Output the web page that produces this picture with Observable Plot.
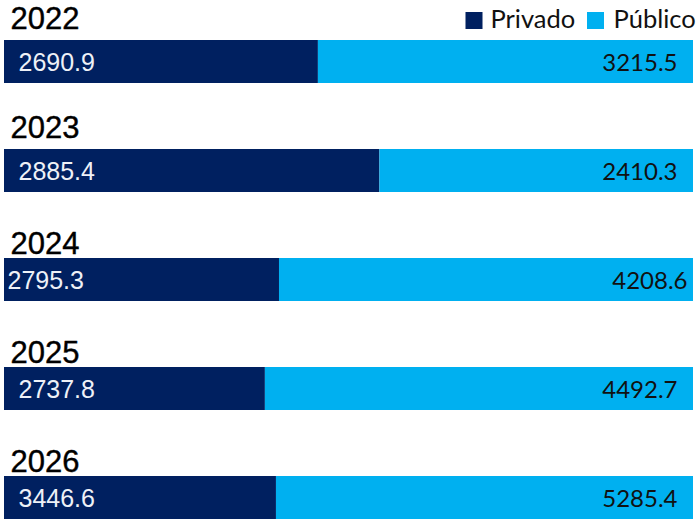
<!DOCTYPE html>
<html>
<head>
<meta charset="utf-8">
<script src="https://cdn.jsdelivr.net/npm/d3@7"></script>
<script src="https://cdn.jsdelivr.net/npm/@observablehq/plot@0.6"></script>
<style>
  html, body { margin: 0; padding: 0; background: #fff; }
  #chart svg { display: block; }
</style>
</head>
<body>
<div id="chart"></div>
<script>
const years = ["2022", "2023", "2024", "2025", "2026"];
const privado = [2690.9, 2885.4, 2795.3, 2737.8, 3446.6];
const publico = [3215.5, 2410.3, 4208.6, 4492.7, 5285.4];
const series = ["Privado", "Público"];
const colors = ["#002060", "#00B0F0"];

const rows = years.flatMap((y, i) => [
  {year: y, tipo: series[0], value: privado[i]},
  {year: y, tipo: series[1], value: publico[i]}
]);
const priv = rows.filter(d => d.tipo === series[0]);
const pub = rows.filter(d => d.tipo === series[1]);

const fmt = d3.format(".1f");
const shifted = new Set(["2024"]);
const upper = new Set(["2022", "2023"]);

const valFont = "'Liberation Sans', Arial, sans-serif";
const legFont = "Lato, 'Noto Sans', sans-serif";

// legend positions (offsets from frame top-left)
const legSquareDx = [469.5, 591];
const legTextDx = [486, 609];

const plot = Plot.plot({
  width: 697,
  height: 519,
  marginTop: 40,
  marginBottom: 0,
  marginLeft: 4,
  marginRight: 4,
  x: {domain: [0, 1], axis: null},
  y: {domain: years, paddingInner: 0.606, paddingOuter: 0, axis: null},
  color: {domain: series, range: colors},
  style: {fontFamily: valFont, overflow: "visible"},
  marks: [
    Plot.barX(rows, Plot.stackX({
      x: "value", y: "year", fill: "tipo", order: series, offset: "normalize"
    })),
    // year labels
    Plot.text(years.filter(y => upper.has(y)), {
      x: () => 0, y: d => d, text: d => d, textAnchor: "start", lineAnchor: "bottom",
      dx: 6, dy: -33, fontSize: 31, fill: "#000", stroke: "#000", strokeWidth: 0.4
    }),
    Plot.text(years.filter(y => !upper.has(y)), {
      x: () => 0, y: d => d, text: d => d, textAnchor: "start", lineAnchor: "bottom",
      dx: 6, dy: -26, fontSize: 31, fill: "#000", stroke: "#000", strokeWidth: 0.4
    }),
    // Privado value labels
    Plot.text(priv.filter(d => !shifted.has(d.year)), {
      x: () => 0, y: "year", text: d => fmt(d.value), textAnchor: "start",
      dx: 14, dy: 1, fontSize: 25, fill: "#eef1f7"
    }),
    Plot.text(priv.filter(d => shifted.has(d.year)), {
      x: () => 0, y: "year", text: d => fmt(d.value), textAnchor: "start",
      dx: 3, dy: 1, fontSize: 25, fill: "#eef1f7"
    }),
    // Público value labels
    Plot.text(pub.filter(d => !shifted.has(d.year)), {
      x: () => 1, y: "year", text: d => fmt(d.value), textAnchor: "end",
      dx: -16, dy: 1, fontSize: 24, fill: "#111", fontFamily: legFont
    }),
    Plot.text(pub.filter(d => shifted.has(d.year)), {
      x: () => 1, y: "year", text: d => fmt(d.value), textAnchor: "end",
      dx: -6, dy: 1, fontSize: 24, fill: "#111", fontFamily: legFont
    }),
    // legend
    ...series.flatMap((s, i) => [
      Plot.dot([s], {
        frameAnchor: "top-left", fill: colors[i], symbol: "square", r: 9.6,
        dx: legSquareDx[i], dy: -20
      }),
      Plot.text([s], {
        frameAnchor: "top-left", text: d => d, textAnchor: "start", lineAnchor: "middle",
        dx: legTextDx[i], dy: -21, fontSize: 25.5, fill: "#111", fontFamily: legFont
      })
    ])
  ]
});
document.getElementById("chart").append(plot);
</script>
</body>
</html>
